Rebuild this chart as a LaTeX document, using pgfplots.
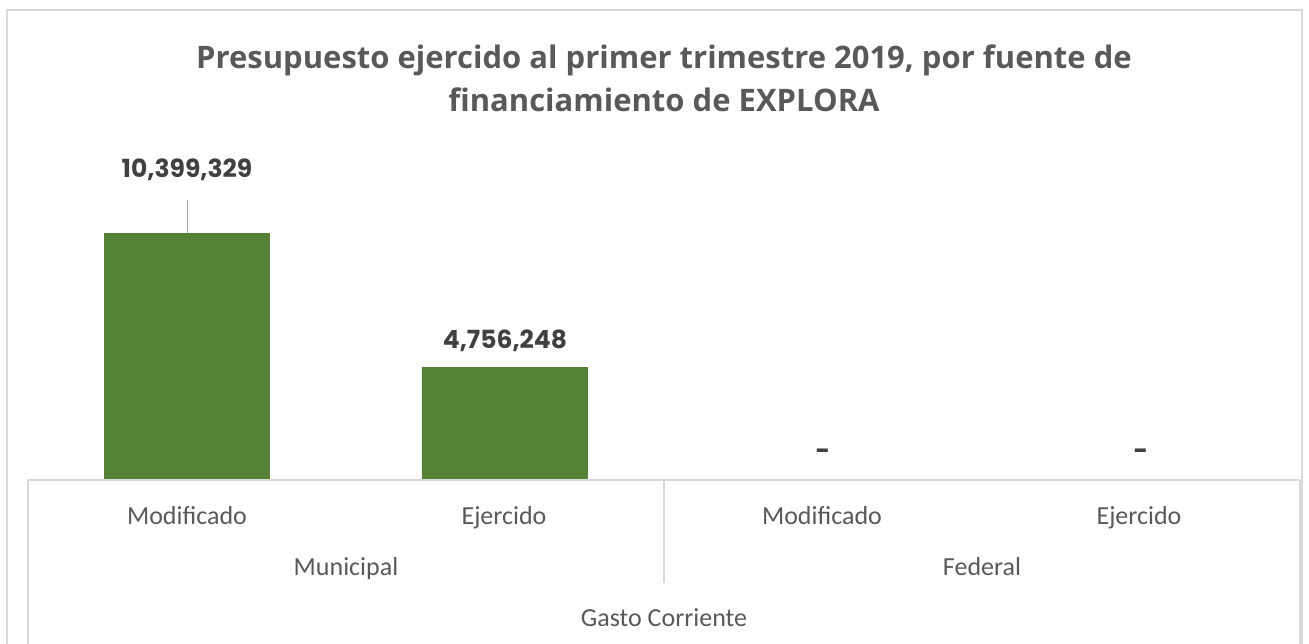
\documentclass[border=0pt]{standalone}
\usepackage{pgfplots}
\pgfplotsset{compat=1.18}
\usepackage{pgfplotstable}
\usepackage{fontspec}
\setmainfont{Carlito}
\newfontfamily\titlefont{Open Sans}
\newfontfamily\labfont{Poppins}
\definecolor{bargreen}{HTML}{548235}
\definecolor{txtgray}{HTML}{595959}
\definecolor{lblgray}{HTML}{404040}
\definecolor{gridgray}{HTML}{D9D9D9}

\pgfplotstableread{
x y label
0 10399329 10,399,329
}\mainA
\pgfplotstableread{
x y label
1 4756248 4,756,248
2 0 -
3 0 -
}\mainB

\begin{document}
\begin{tikzpicture}[x=1pt,y=1pt]
\path[use as bounding box] (-28,-163) rectangle (1281,480);
\draw[gridgray, line width=1.5pt] (-21,470) rectangle (1274,-200);
\node[font=\titlefont\bfseries\fontsize{31}{43}\selectfont, text=txtgray, align=center] at (636,401.5)
  {Presupuesto ejercido al primer trimestre 2019, por fuente de\\financiamiento de EXPLORA};
\begin{axis}[at={(0,0)}, anchor=south west, scale only axis,
  width=1272pt, height=330pt,
  xmin=-0.5, xmax=3.5, ymin=0, ymax=13.9e6,
  axis lines=none, xtick=\empty, ytick=\empty, clip=false,
  ybar, bar width=166pt, bar shift=0pt,
  nodes near coords, point meta=explicit symbolic,
  every node near coord/.append style={font=\labfont\bfseries\fontsize{25}{29}\selectfont, text=lblgray, inner sep=2pt, anchor=center, yshift=26pt}]
\addplot[fill=bargreen, draw=none, every node near coord/.append style={yshift=37pt}] table[x=x,y=y,meta=label]{\mainA};
\addplot[fill=bargreen, draw=none] table[x=x,y=y,meta=label]{\mainB};
\draw[gray!70, line width=1pt] (axis cs:0,10399329) -- ++(0pt,33pt);
\end{axis}
\draw[gridgray, line width=1.5pt] (0,0) -- (1272,0);
\draw[gridgray, line width=1.5pt] (0,0) -- (0,-170);
\draw[gridgray, line width=1.5pt] (636,0) -- (636,-103);
\draw[gridgray, line width=1.5pt] (1272,0) -- (1272,-170);
\begin{scope}[every node/.style={font=\fontsize{26}{30}\selectfont, text=txtgray, anchor=base}]
\node at (159,-44) {Modificado};
\node at (476,-44) {Ejercido};
\node at (794,-44) {Modificado};
\node at (1111,-44) {Ejercido};
\node at (318,-95) {Municipal};
\node at (954,-95) {Federal};
\node at (636,-146) {Gasto Corriente};
\end{scope}
\end{tikzpicture}
\end{document}
